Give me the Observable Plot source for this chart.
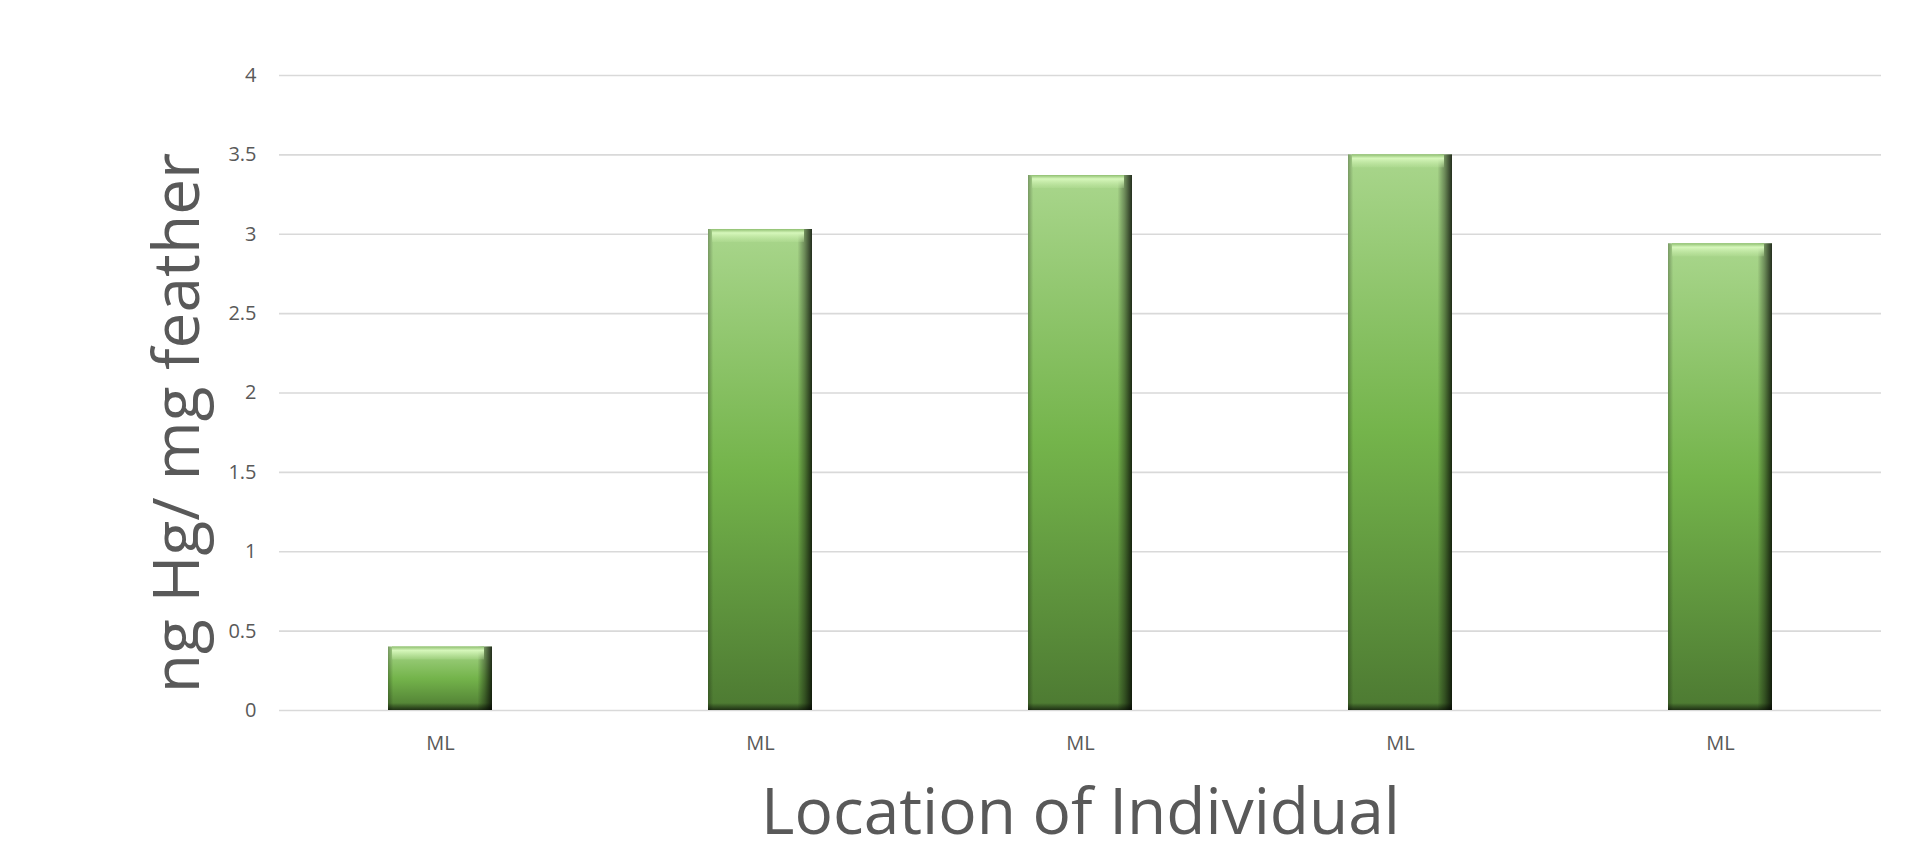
<!DOCTYPE html>
<html>
<head>
<meta charset="utf-8">
<script src="https://cdn.jsdelivr.net/npm/d3@7"></script>
<script src="https://cdn.jsdelivr.net/npm/@observablehq/plot@0.6"></script>
<style>
  html, body { margin: 0; padding: 0; background: #ffffff; }
  #chart { width: 1917px; height: 841px; }
</style>
</head>
<body>
<svg width="0" height="0" style="position:absolute">
  <defs>
    <linearGradient id="barGrad" x1="0" y1="0" x2="0" y2="1">
      <stop offset="0" stop-color="#a9d68c"/>
      <stop offset="0.5" stop-color="#74b44b"/>
      <stop offset="1" stop-color="#4d7a32"/>
    </linearGradient>
    <linearGradient id="sideGrad" x1="0" y1="0" x2="1" y2="0">
      <stop offset="0" stop-color="#000000" stop-opacity="0.28"/>
      <stop offset="0.05" stop-color="#000000" stop-opacity="0.0"/>
      <stop offset="0.86" stop-color="#000000" stop-opacity="0.0"/>
      <stop offset="0.93" stop-color="#000000" stop-opacity="0.35"/>
      <stop offset="1" stop-color="#000000" stop-opacity="0.78"/>
    </linearGradient>
    <linearGradient id="topGrad" x1="0" y1="0" x2="0" y2="1">
      <stop offset="0" stop-color="#8fbf70" stop-opacity="1"/>
      <stop offset="0.3" stop-color="#d6f7bb" stop-opacity="1"/>
      <stop offset="1" stop-color="#c4eaa6" stop-opacity="0.2"/>
    </linearGradient>
    <linearGradient id="botGrad" x1="0" y1="0" x2="0" y2="1">
      <stop offset="0" stop-color="#000000" stop-opacity="0"/>
      <stop offset="1" stop-color="#000000" stop-opacity="0.6"/>
    </linearGradient>
  </defs>
</svg>
<div id="chart"></div>
<script>
// ---- data ----
const categories = ["ML", "ML", "ML", "ML", "ML"];
const values = [0.40, 3.03, 3.37, 3.50, 2.94];
const yTicks = [0, 0.5, 1, 1.5, 2, 2.5, 3, 3.5, 4];
const yTitle = "ng Hg/ mg feather";
const xTitle = "Location of Individual";

const data = values.map((v, i) => ({i, v, cat: categories[i]}));

const chart = Plot.plot({
  width: 1917,
  height: 841,
  marginLeft: 279,
  marginRight: 36,
  marginTop: 75,
  marginBottom: 131,
  style: {fontFamily: "'Open Sans', sans-serif", color: "#595959", background: "#ffffff"},
  x: {type: "band", domain: data.map(d => d.i), paddingInner: 0.675, paddingOuter: 0.3375},
  y: {domain: [0, 4]},
  marks: [
    Plot.gridY(yTicks, {stroke: "#d9d9d9", strokeOpacity: 1, strokeWidth: 1.6}),
    Plot.axisY(yTicks, {tickSize: 0, tickPadding: 23, fontSize: 20, tickFormat: d => String(d), label: null}),
    Plot.axisX({tickSize: 0, tickPadding: 25, fontSize: 20, tickFormat: i => categories[i], label: null}),
    Plot.barY(data, {x: "i", y: "v", fill: "url(#barGrad)"}),
    Plot.barY(data, {x: "i", y: "v", fill: "url(#sideGrad)"}),
    Plot.barY(data, {x: "i", y1: "v", y2: "v", insetBottom: -13, insetLeft: 4, insetRight: 8, fill: "url(#topGrad)"}),
    Plot.barY(data, {x: "i", y1: 0, y2: 0, insetTop: -7, fill: "url(#botGrad)"}),
    Plot.text([yTitle], {frameAnchor: "left", textAnchor: "middle", lineAnchor: "middle", rotate: -90, dx: -101, dy: 30, fontSize: 64, fill: "#595959", text: d => d}),
    Plot.text([xTitle], {frameAnchor: "bottom", textAnchor: "middle", dy: 123, fontSize: 64, fill: "#595959", text: d => d})
  ]
});
document.getElementById("chart").appendChild(chart);
</script>
</body>
</html>
